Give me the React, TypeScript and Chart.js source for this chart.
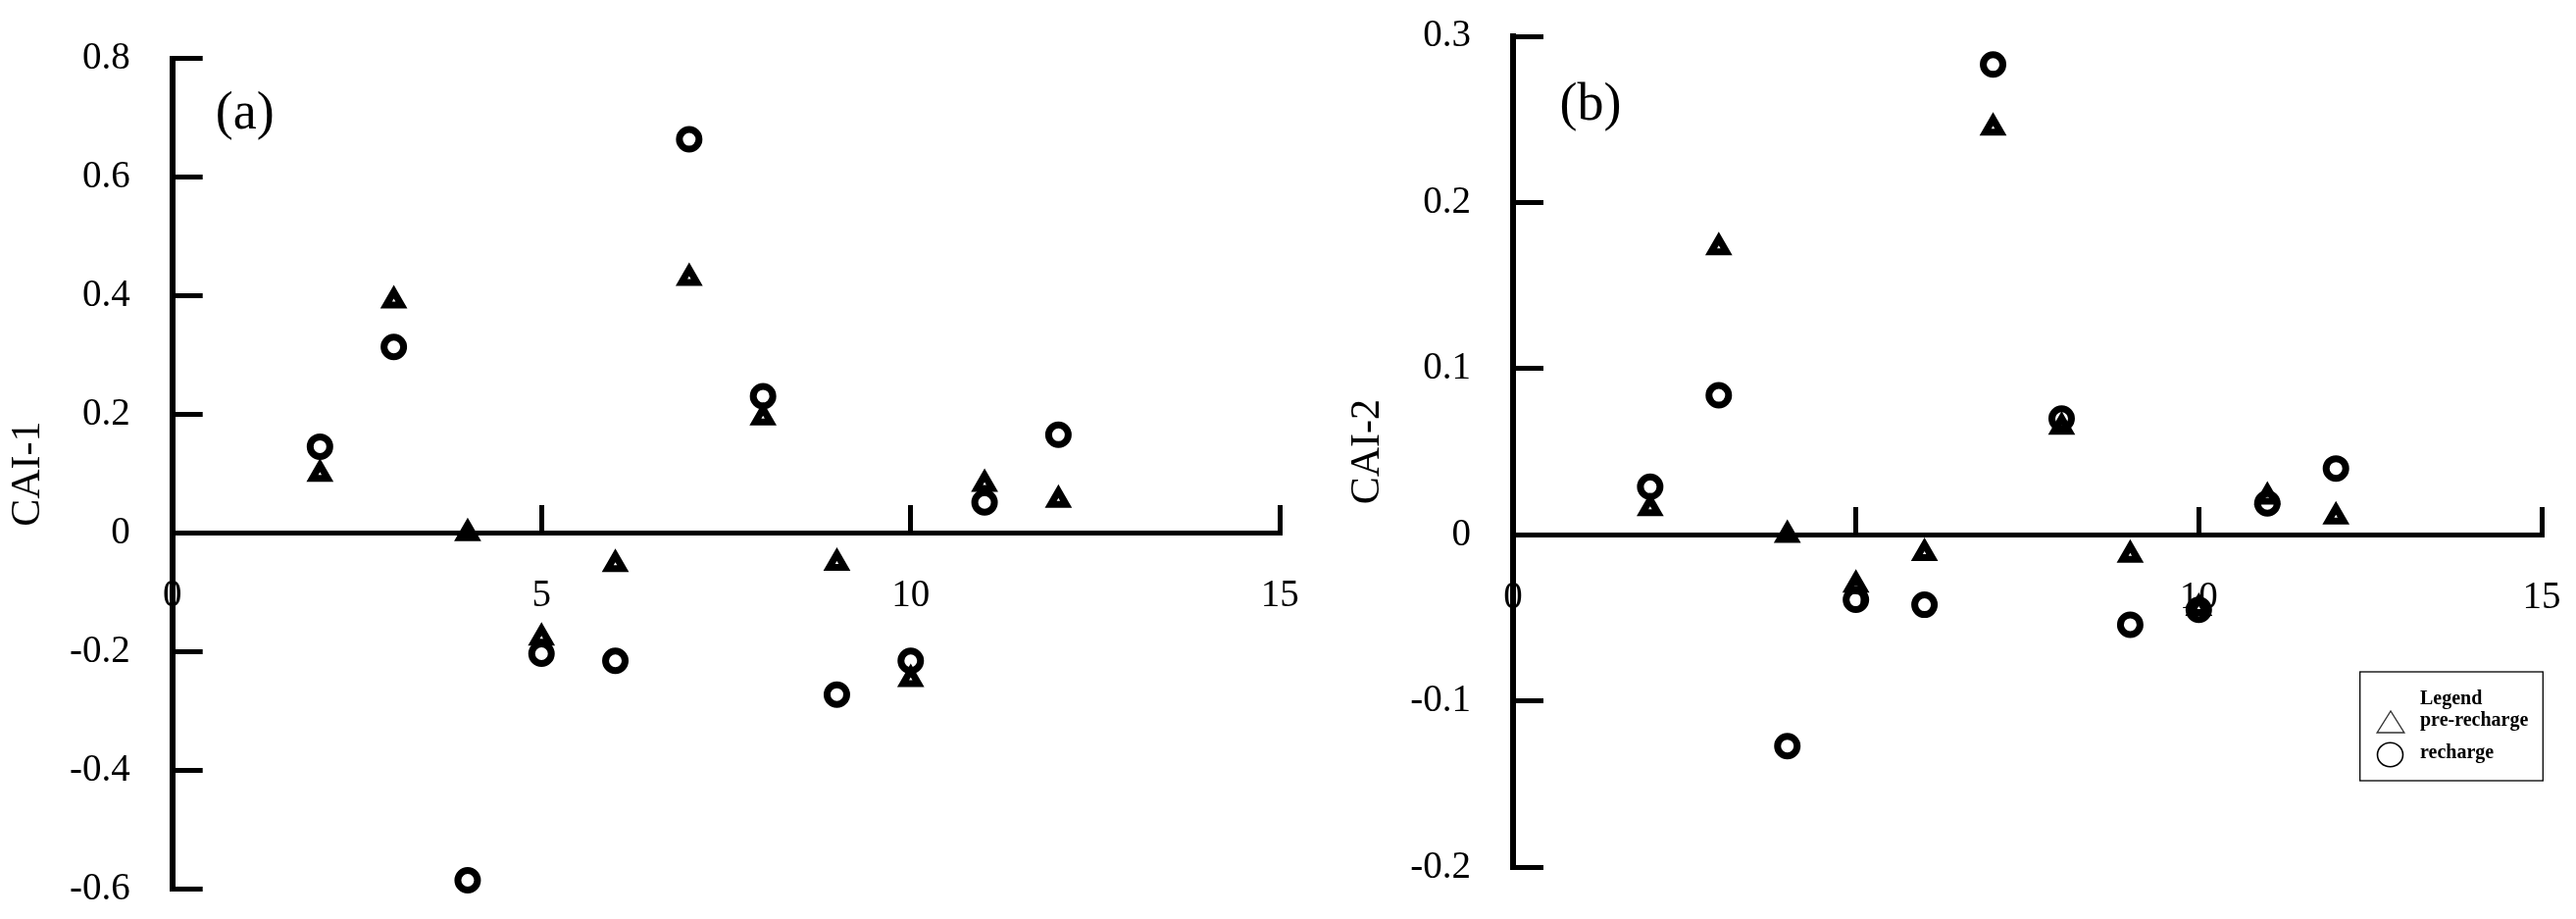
import React, { useEffect, useRef } from 'react';
import { Chart, registerables } from 'chart.js';

Chart.register(...registerables);

// ---------- data ----------
const sampleNo = [2, 3, 4, 5, 6, 7, 8, 9, 10, 11, 12];
const cai1PreRecharge = [0.100, 0.392, 0.0, -0.176, -0.052, 0.430, 0.195, -0.050, -0.246, 0.083, 0.056];
const cai1Recharge = [0.146, 0.314, -0.585, -0.203, -0.215, 0.664, 0.231, -0.272, -0.215, 0.052, 0.166];
const cai2PreRecharge = [0.016, 0.173, 0.0, -0.030, -0.011, 0.245, 0.065, -0.012, -0.044, 0.023, 0.011];
const cai2Recharge = [0.029, 0.084, -0.127, -0.039, -0.042, 0.283, 0.070, -0.054, -0.045, 0.019, 0.040];

const xRange = [0, 15];
const xStep = 5;
const cai1Range = [-0.6, 0.8];
const cai1Step = 0.2;
const cai2Range = [-0.2, 0.3];
const cai2Step = 0.1;

const seriesNames = ['pre-recharge', 'recharge'];
const legendTitle = 'Legend';
const panelTitles = ['(a)', '(b)'];
const axisTitles = ['CAI-1', 'CAI-2'];

Chart.defaults.font.family = '"Liberation Serif", "Times New Roman", serif';
Chart.defaults.color = '#000';

const FONT = '"Liberation Serif", "Times New Roman", serif';
const TICK_SIZE = 39;

const fmt = (v: any) => {
  const n = Math.round(Number(v) * 10) / 10;
  return n === 0 ? '0' : String(n);
};

const zeroPad = (s: any) => {
  s.paddingLeft = 0;
  s.paddingRight = 0;
  s.paddingTop = 0;
  s.paddingBottom = 0;
};

const panelLabelPlugin = {
  id: 'panelLabel',
  afterDraw(chart: any) {
    const o = chart.options.plugins.panelLabel;
    if (!o) return;
    const { ctx, chartArea } = chart;
    ctx.save();
    ctx.font = `54px ${FONT}`;
    ctx.fillStyle = '#000';
    ctx.textAlign = 'center';
    ctx.textBaseline = 'middle';
    ctx.fillText(o.text, chartArea.left + o.dx, chartArea.top + o.dy);
    ctx.restore();
  },
};

const boxLegendPlugin = {
  id: 'boxLegend',
  afterDraw(chart: any) {
    const o = chart.options.plugins.boxLegend;
    if (!o || !o.show) return;
    const { ctx, chartArea } = chart;
    const w = 186.6;
    const h = 111;
    const left = chartArea.right + 1.3 - w;
    const top = chartArea.bottom - 199.4;
    ctx.save();
    ctx.strokeStyle = '#000';
    ctx.lineWidth = 1.3;
    ctx.strokeRect(left, top, w, h);
    ctx.fillStyle = '#000';
    ctx.font = `bold 20px ${FONT}`;
    ctx.textAlign = 'left';
    ctx.textBaseline = 'alphabetic';
    const tx = left + 61.3;
    ctx.fillText(o.title, tx, top + 33);
    const names = chart.data.datasets.map((d: any) => d.label);
    ctx.fillText(names[0], tx, top + 55);
    ctx.fillText(names[1], tx, top + 88);
    // triangle icon
    ctx.lineWidth = 1.4;
    ctx.strokeStyle = '#333';
    ctx.beginPath();
    ctx.moveTo(left + 31.3, top + 40);
    ctx.lineTo(left + 17.5, top + 62);
    ctx.lineTo(left + 45.1, top + 62);
    ctx.closePath();
    ctx.stroke();
    // circle icon
    ctx.strokeStyle = '#000';
    ctx.lineWidth = 1.6;
    ctx.beginPath();
    ctx.ellipse(left + 30.8, top + 84.5, 13, 12.2, 0, 0, Math.PI * 2);
    ctx.stroke();
    ctx.restore();
  },
};

type PanelCfg = {
  pre: number[];
  rech: number[];
  yRange: number[];
  yStep: number;
  yTitle: string;
  panel: string;
  panelDx: number;
  panelDy: number;
  yAxisWidth: number;
  titlePadTop: number;
  padding: { top: number; right: number; bottom: number; left: number };
  legend: boolean;
};

function buildConfig(c: PanelCfg): any {
  return {
    type: 'scatter',
    data: {
      datasets: [
        {
          label: seriesNames[0],
          data: sampleNo.map((x, i) => ({ x, y: c.pre[i] })),
          pointStyle: 'triangle',
          pointRadius: 9,
          borderWidth: 7,
          borderColor: '#000',
          backgroundColor: 'rgba(0,0,0,0)',
          clip: false,
        },
        {
          label: seriesNames[1],
          data: sampleNo.map((x, i) => ({ x, y: c.rech[i] })),
          pointStyle: 'circle',
          pointRadius: 10,
          borderWidth: 7,
          borderColor: '#000',
          backgroundColor: 'rgba(0,0,0,0)',
          clip: false,
        },
      ],
    },
    options: {
      responsive: false,
      animation: false,
      devicePixelRatio: 1,
      events: [],
      layout: { padding: c.padding },
      plugins: {
        legend: { display: false },
        tooltip: { enabled: false },
        panelLabel: { text: c.panel, dx: c.panelDx, dy: c.panelDy },
        boxLegend: { show: c.legend, title: legendTitle },
      },
      scales: {
        x: {
          type: 'linear',
          min: xRange[0],
          max: xRange[1],
          position: { y: 0 },
          ticks: {
            stepSize: xStep,
            padding: 71.6,
            font: { size: TICK_SIZE },
            color: '#000',
            maxRotation: 0,
            autoSkip: false,
          },
          grid: {
            drawOnChartArea: false,
            drawTicks: true,
            tickLength: -31,
            tickWidth: 5,
            color: '#000',
          },
          border: { display: true, color: '#000', width: 5 },
          afterFit: (s: any) => {
            s.height = 0;
            zeroPad(s);
          },
        },
        y: {
          type: 'linear',
          min: c.yRange[0],
          max: c.yRange[1],
          position: 'left',
          ticks: {
            stepSize: c.yStep,
            padding: 74,
            font: { size: TICK_SIZE },
            color: '#000',
            callback: (v: any) => fmt(v),
          },
          grid: {
            drawOnChartArea: false,
            drawTicks: true,
            tickLength: -31,
            tickWidth: 5,
            color: '#000',
          },
          border: { display: true, color: '#000', width: 6 },
          title: {
            display: true,
            text: c.yTitle,
            font: { size: 42 },
            color: '#000',
            padding: { top: c.titlePadTop, bottom: 0 },
          },
          afterFit: (s: any) => {
            s.width = c.yAxisWidth;
            zeroPad(s);
          },
        },
      },
    },
    plugins: [panelLabelPlugin, boxLegendPlugin],
  };
}

function Panel({ left, width, height, cfg }: { left: number; width: number; height: number; cfg: PanelCfg }) {
  const ref = useRef<HTMLCanvasElement>(null);
  useEffect(() => {
    const chart = new Chart(ref.current as HTMLCanvasElement, buildConfig(cfg));
    return () => chart.destroy();
  }, []);
  return (
    <canvas
      ref={ref}
      width={width}
      height={height}
      style={{ position: 'absolute', left, top: 0, width, height, display: 'block' }}
    />
  );
}

const leftCfg: PanelCfg = {
  pre: cai1PreRecharge,
  rech: cai1Recharge,
  yRange: cai1Range,
  yStep: cai1Step,
  yTitle: axisTitles[0],
  panel: panelTitles[0],
  panelDx: 74,
  panelDy: 57,
  yAxisWidth: 175.7,
  titlePadTop: 4,
  padding: { top: 59.8, right: 34.7, bottom: 30.4, left: 0 },
  legend: false,
};

const rightCfg: PanelCfg = {
  pre: cai2PreRecharge,
  rech: cai2Recharge,
  yRange: cai2Range,
  yStep: cai2Step,
  yTitle: axisTitles[1],
  panel: panelTitles[1],
  panelDx: 79,
  panelDy: 70.5,
  yAxisWidth: 203,
  titlePadTop: 30,
  padding: { top: 37, right: 35, bottom: 52.6, left: 0 },
  legend: true,
};

export default function App() {
  return (
    <div
      style={{
        position: 'fixed',
        left: 0,
        top: 0,
        width: 2627,
        height: 937,
        background: '#fff',
        overflow: 'hidden',
      }}
    >
      <Panel left={0} width={1340} height={937} cfg={leftCfg} />
      <Panel left={1340} width={1287} height={937} cfg={rightCfg} />
    </div>
  );
}
